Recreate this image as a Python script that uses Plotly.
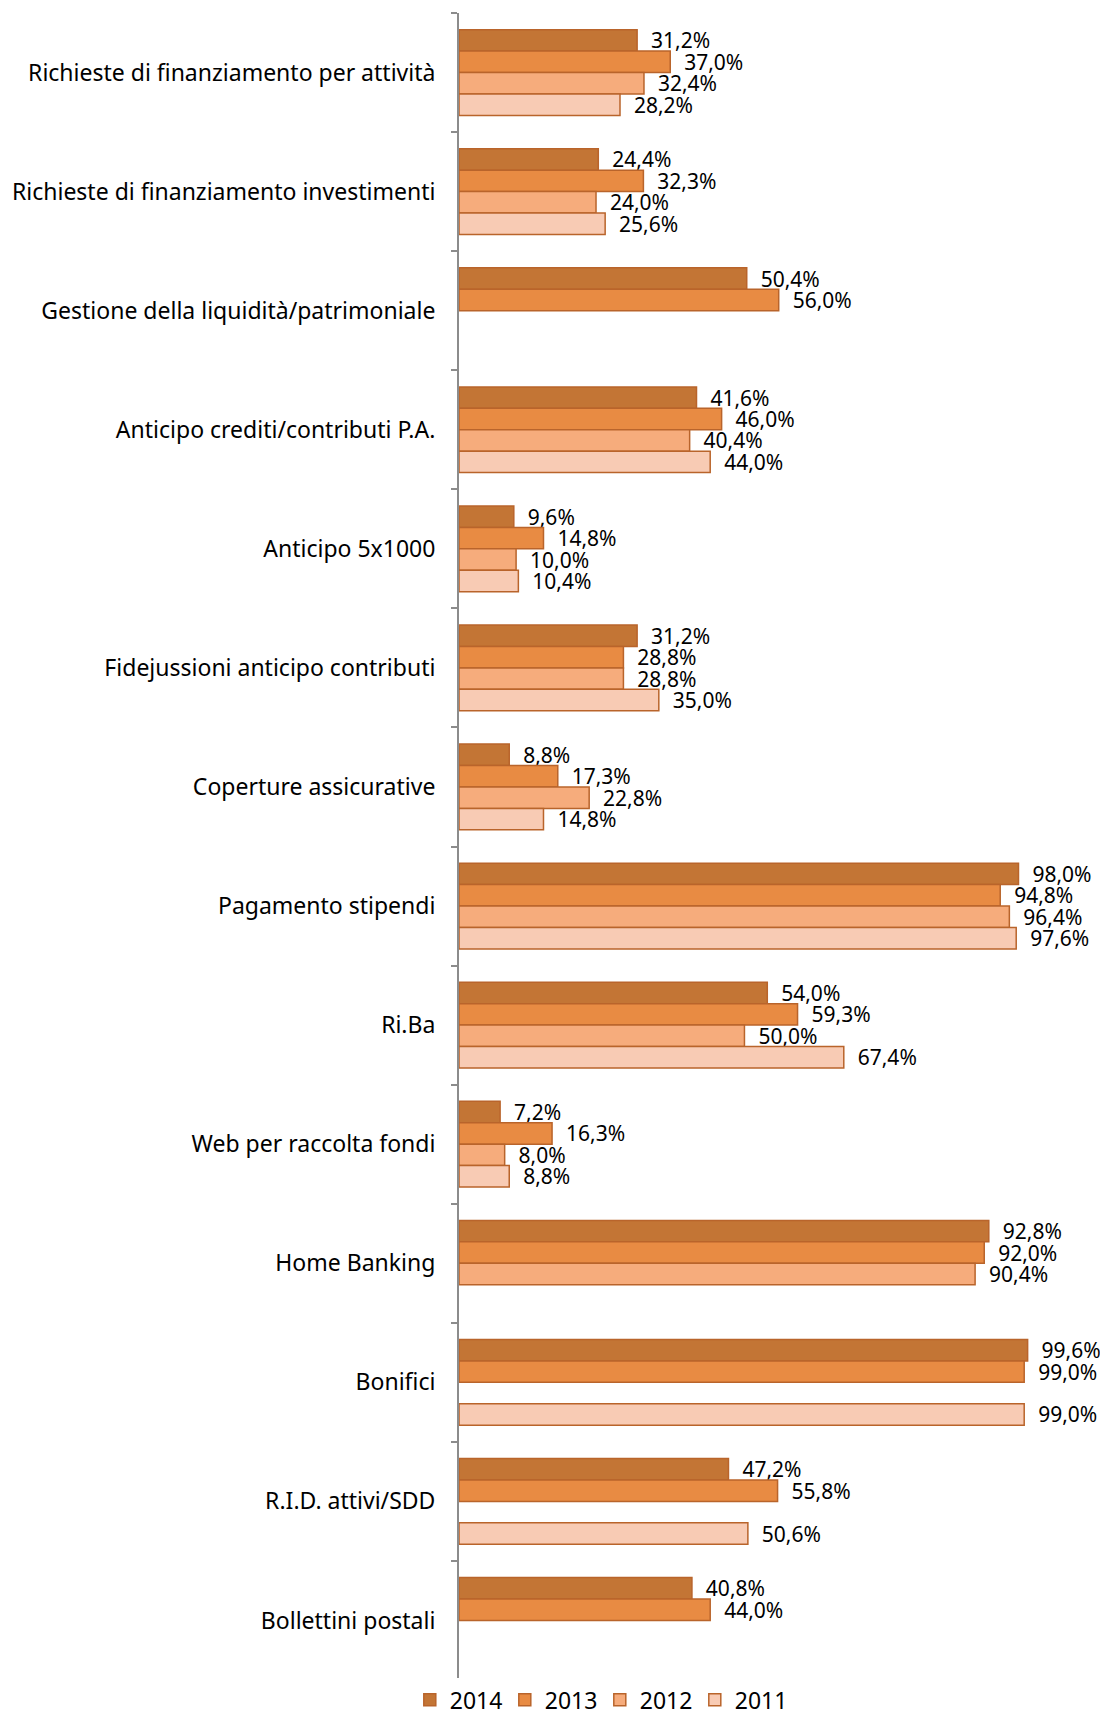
import plotly.graph_objects as go

categories = [
    "Richieste di finanziamento per attività",
    "Richieste di finanziamento investimenti",
    "Gestione della liquidità/patrimoniale",
    "Anticipo crediti/contributi P.A.",
    "Anticipo 5x1000",
    "Fidejussioni anticipo contributi",
    "Coperture assicurative",
    "Pagamento stipendi",
    "Ri.Ba",
    "Web per raccolta fondi",
    "Home Banking",
    "Bonifici",
    "R.I.D. attivi/SDD",
    "Bollettini postali",
]

years = ["2014", "2013", "2012", "2011"]

v2014 = [31.2, 24.4, 50.4, 41.6, 9.6, 31.2, 8.8, 98.0, 54.0, 7.2, 92.8, 99.6, 47.2, 40.8]
v2013 = [37.0, 32.3, 56.0, 46.0, 14.8, 28.8, 17.3, 94.8, 59.3, 16.3, 92.0, 99.0, 55.8, 44.0]
v2012 = [32.4, 24.0, None, 40.4, 10.0, 28.8, 22.8, 96.4, 50.0, 8.0, 90.4, None, None, None]
v2011 = [28.2, 25.6, None, 44.0, 10.4, 35.0, 14.8, 97.6, 67.4, 8.8, None, 99.0, 50.6, None]

series = [v2014, v2013, v2012, v2011]
colors = ["#C37535", "#E88B43", "#F6AC7C", "#F8CBB4"]

FONT = "Noto Sans"

def fmt(v):
    if v is None:
        return ""
    return "\u00a0\u00a0" + f"{v:.1f}".replace(".", ",") + "%"

fig = go.Figure()
for name, vals, col in zip(years, series, colors):
    fig.add_trace(go.Bar(
        y=categories,
        x=vals,
        name=name,
        orientation="h",
        marker=dict(color=col, line=dict(color="#B9642B", width=1.5)),
        text=[fmt(v) for v in vals],
        textposition="outside",
        constraintext="none",
        textfont=dict(family=FONT, size=21, color="black"),
        cliponaxis=False,
        hoverinfo="skip",
    ))

fig.update_layout(
    width=1100,
    height=1714,
    barmode="group",
    bargap=0.28,
    bargroupgap=0,
    plot_bgcolor="white",
    paper_bgcolor="white",
    margin=dict(l=451, r=21, t=5, b=42, autoexpand=False),
    font=dict(family=FONT, size=22, color="black"),
    xaxis=dict(range=[0, 110], visible=False, automargin=False),
    yaxis=dict(
        type="category",
        autorange="reversed",
        automargin=False,
        showline=True,
        linecolor="#8C8C8C",
        linewidth=2,
        ticks="outside",
        tickson="boundaries",
        ticklen=6,
        tickcolor="#8C8C8C",
        tickwidth=1.5,
        ticklabelstandoff=17,
        tickfont=dict(family=FONT, size=23, color="black"),
        showgrid=False,
    ),
    legend=dict(
        orientation="h",
        xref="container",
        x=0.538,
        xanchor="center",
        yref="container",
        y=0.013,
        yanchor="middle",
        font=dict(family=FONT, size=23, color="black"),
        itemwidth=30,
        entrywidth=50,
        entrywidthmode="pixels",
        traceorder="normal",
    ),
)

fig.write_html("out.html")
